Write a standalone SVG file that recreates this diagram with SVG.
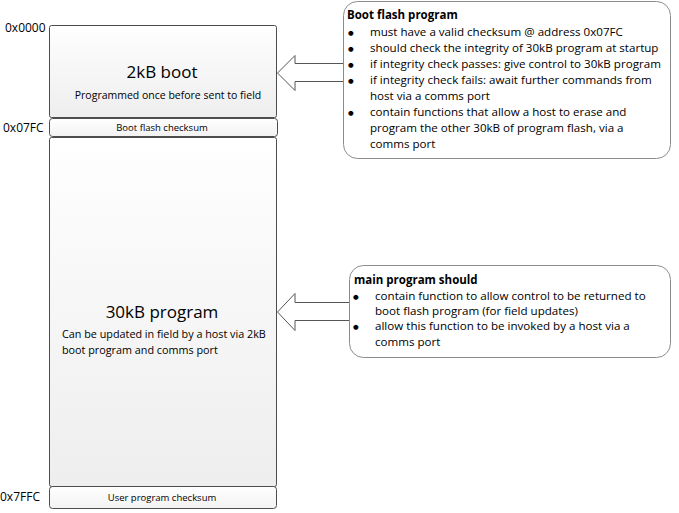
<svg xmlns="http://www.w3.org/2000/svg" width="679" height="513" viewBox="0 0 679 513">
<defs>
<linearGradient id="g" x1="0" y1="0" x2="0" y2="1">
<stop offset="0" stop-color="#ffffff"/>
<stop offset="0.2" stop-color="#fbfbfb"/>
<stop offset="1" stop-color="#eeeeee"/>
</linearGradient>
<linearGradient id="g2" x1="0" y1="0" x2="0" y2="1">
<stop offset="0" stop-color="#ffffff"/>
<stop offset="1" stop-color="#f2f2f2"/>
</linearGradient>
</defs>
<style>
.mem{fill:url(#g);stroke:#4d4d4d;stroke-width:1}
.cs{fill:url(#g2);stroke:#4d4d4d;stroke-width:1}
.call{fill:#ffffff;stroke:#8c8c8c;stroke-width:1}
.arr{fill:#ffffff;stroke:#555555;stroke-width:1}
text{font-family:"Open Sans","Noto Sans","Liberation Sans",sans-serif;fill:#000}
.addr{font-size:12px}
.big{font-size:17px;text-anchor:middle}
.sm{font-size:10.8px}
.smc{font-size:9.5px;text-anchor:middle}
.pm{font-size:10.5px;text-anchor:middle}
.ct{font-size:11.6px}
.bu{font-size:6.5px;font-family:"DejaVu Sans",sans-serif}
.ctb{font-size:11.5px;font-weight:bold}
</style>
<g id="labels">
<text class="addr" x="5" y="32">0x0000</text>
<text class="addr" x="3" y="132">0x07FC</text>
<text class="addr" x="0" y="501">0x7FFC</text>
</g>
<g id="boot">
<rect class="mem" x="49.5" y="25.5" width="227" height="92" rx="2"/>
<text class="big" x="162" y="78">2kB boot</text>
<text class="pm" x="168" y="99">Programmed once before sent to field</text>
</g>
<g id="bootcs">
<rect class="cs" x="49.5" y="118.5" width="228" height="18" rx="3"/>
<text class="smc" x="162" y="131">Boot flash checksum</text>
</g>
<g id="main">
<rect class="mem" x="49.5" y="137.5" width="227" height="349" rx="2"/>
<text class="big" x="162" y="318">30kB program</text>
<text class="sm" x="62" y="338">Can be updated in field by a host via 2kB</text>
<text class="sm" x="62" y="354">boot program and comms port</text>
</g>
<g id="usercs">
<rect class="cs" x="49.5" y="486.5" width="227" height="22" rx="3"/>
<text class="smc" x="162" y="501">User program checksum</text>
</g>
<g id="callout1">
<rect class="call" x="343.5" y="1.5" width="327" height="157" rx="14"/>
<text class="ctb" x="347" y="19">Boot flash program</text>
<text class="bu" x="348" y="35">●</text><text class="ct" x="370" y="36">must have a valid checksum @ address 0x07FC</text>
<text class="bu" x="348" y="51">●</text><text class="ct" x="370" y="52">should check the integrity of 30kB program at startup</text>
<text class="bu" x="348" y="67">●</text><text class="ct" x="370" y="68">if integrity check passes: give control to 30kB program</text>
<text class="bu" x="348" y="83">●</text><text class="ct" x="370" y="84">if integrity check fails: await further commands from</text>
<text class="ct" x="370" y="100">host via a comms port</text>
<text class="bu" x="348" y="115">●</text><text class="ct" x="370" y="116">contain functions that allow a host to erase and</text>
<text class="ct" x="370" y="132">program the other 30kB of program flash, via a</text>
<text class="ct" x="370" y="148">comms port</text>
</g>
<g id="callout2">
<rect class="call" x="349.5" y="265.5" width="321" height="92" rx="14"/>
<text class="ctb" x="354" y="284">main program should</text>
<text class="bu" x="353" y="299">●</text><text class="ct" x="375" y="300">contain function to allow control to be returned to</text>
<text class="ct" x="375" y="315">boot flash program (for field updates)</text>
<text class="bu" x="353" y="329">●</text><text class="ct" x="375" y="330">allow this function to be invoked by a host via a</text>
<text class="ct" x="375" y="346">comms port</text>
</g>
<g id="connectors">
<path class="arr" d="M343,63.5 L295,63.5 L295,55.5 L277.5,73 L295,90.5 L295,81.5 L343,81.5"/>
<path class="arr" d="M349,302.5 L295,302.5 L295,293.5 L277.5,312 L295,330.5 L295,320.5 L349,320.5"/>
</g>
</svg>
